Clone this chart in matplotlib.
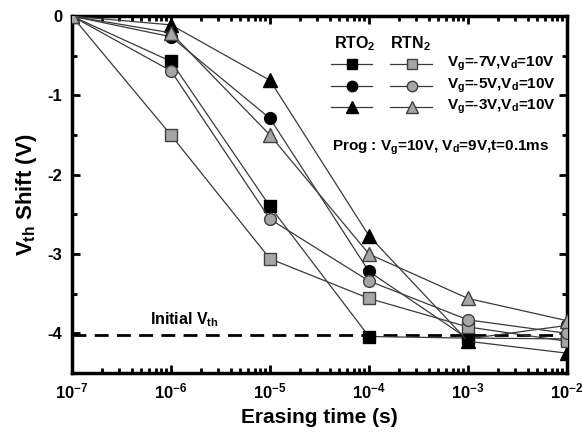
import numpy as np
import matplotlib
matplotlib.use("Agg")
import matplotlib.pyplot as plt
from matplotlib.lines import Line2D
from matplotlib.ticker import LogLocator, MultipleLocator, NullFormatter

plt.rcParams['font.family'] = ['Liberation Sans', 'DejaVu Sans']
plt.rcParams['font.weight'] = 'bold'
plt.rcParams['mathtext.fontset'] = 'custom'
plt.rcParams['mathtext.rm'] = 'Liberation Sans:bold'
plt.rcParams['mathtext.it'] = 'Liberation Sans:bold'
plt.rcParams['mathtext.bf'] = 'Liberation Sans:bold'

# erasing time (s)
t = [1e-7, 1e-6, 1e-5, 1e-4, 1e-3, 1e-2]

# Vth shift (V)
rto2_m7 = [0, -0.57, -2.40, -4.04, -4.06, -4.07]
rto2_m5 = [0, -0.26, -1.29, -3.22, -4.07, -3.90]
rto2_m3 = [0, -0.11, -0.81, -2.77, -4.10, -4.25]
rtn2_m7 = [0, -1.50, -3.06, -3.56, -3.92, -4.10]
rtn2_m5 = [0, -0.69, -2.56, -3.34, -3.83, -4.00]
rtn2_m3 = [0, -0.21, -1.50, -3.00, -3.56, -3.84]

initial_vth = -4.02

xticks = [1e-7, 1e-6, 1e-5, 1e-4, 1e-3, 1e-2]
xtick_labels = [r'$10^{-7}$', r'$10^{-6}$', r'$10^{-5}$', r'$10^{-4}$', r'$10^{-3}$', r'$10^{-2}$']
yticks = [0, -1, -2, -3, -4]
ytick_labels = ['0', '-1', '-2', '-3', '-4']

bias_labels = [r'$V_g$=-7V,$V_d$=10V', r'$V_g$=-5V,$V_d$=10V', r'$V_g$=-3V,$V_d$=10V']

line_c = '#3a3a3a'
gray = '#a6a6a6'
edge_gray = '#404040'

fig = plt.figure(figsize=(5.82, 4.37), dpi=100)
ax = fig.add_axes([0.1237, 0.1465, 0.8505, 0.8165])

ax.plot(t, [initial_vth] * len(t), color='black', lw=2, dashes=(5, 3), zorder=1)

series = [
    (rto2_m7, 's', 'black', 'black', 8),
    (rto2_m5, 'o', 'black', 'black', 8.5),
    (rto2_m3, '^', 'black', 'black', 9.5),
    (rtn2_m7, 's', gray, edge_gray, 8),
    (rtn2_m5, 'o', gray, edge_gray, 8.5),
    (rtn2_m3, '^', gray, edge_gray, 9.5),
]
for y, m, fc, ec, ms in series:
    ax.plot(t, y, color=line_c, lw=0.9, marker=m, ms=ms,
            mfc=fc, mec=ec, mew=1.0, zorder=3)

ax.set_xscale('log')
ax.set_xlim(1e-7, 1e-2)
ax.set_ylim(-4.5, 0)
ax.set_xticks(xticks)
ax.set_xticklabels(xtick_labels, fontsize=12)
ax.xaxis.set_minor_locator(LogLocator(base=10, subs=np.arange(2, 10), numticks=20))
ax.xaxis.set_minor_formatter(NullFormatter())
ax.set_yticks(yticks)
ax.set_yticklabels(ytick_labels, fontsize=12, fontweight='bold')
ax.yaxis.set_minor_locator(MultipleLocator(0.5))

ax.tick_params(which='both', direction='in', top=True, right=True, width=2)
ax.tick_params(which='major', length=6, pad=7)
ax.tick_params(axis='x', which='major', pad=6)
ax.tick_params(which='minor', length=3.5)
for s in ax.spines.values():
    s.set_linewidth(2.5)

ax.set_xlabel('Erasing time (s)', fontsize=15, fontweight='bold', labelpad=5)
ax.set_ylabel(r'$V_{th}$ Shift (V)', fontsize=16, fontweight='bold', labelpad=6)

# hand-made legend
tr = ax.transAxes
ax.text(0.572, 0.924, r'RTO$_2$', transform=tr, fontsize=11.5, ha='center', va='center')
ax.text(0.684, 0.924, r'RTN$_2$', transform=tr, fontsize=11.5, ha='center', va='center')
rows = [0.866, 0.804, 0.745]
mk = ['s', 'o', '^']
mss = [7, 7.5, 8.5]
for i in range(3):
    ax.add_line(Line2D([0.523, 0.606], [rows[i], rows[i]], transform=tr, color=line_c, lw=0.9,
                       clip_on=False))
    ax.add_line(Line2D([0.566], [rows[i]], transform=tr, marker=mk[i], ms=mss[i],
                       mfc='black', mec='black', clip_on=False))
    ax.add_line(Line2D([0.642, 0.727], [rows[i], rows[i]], transform=tr, color=line_c, lw=0.9,
                       clip_on=False))
    ax.add_line(Line2D([0.687], [rows[i]], transform=tr, marker=mk[i], ms=mss[i],
                       mfc=gray, mec=edge_gray, mew=1.0, clip_on=False))
    ax.text(0.758, rows[i], bias_labels[i], transform=tr, fontsize=11, va='center')

ax.text(0.525, 0.630, r'Prog : $V_g$=10V, $V_d$=9V,t=0.1ms', transform=tr,
        fontsize=11, va='center')
ax.text(0.158, 0.150, r'Initial $V_{th}$', transform=tr, fontsize=11.5, va='center')

fig.savefig('out.png', dpi=100)
